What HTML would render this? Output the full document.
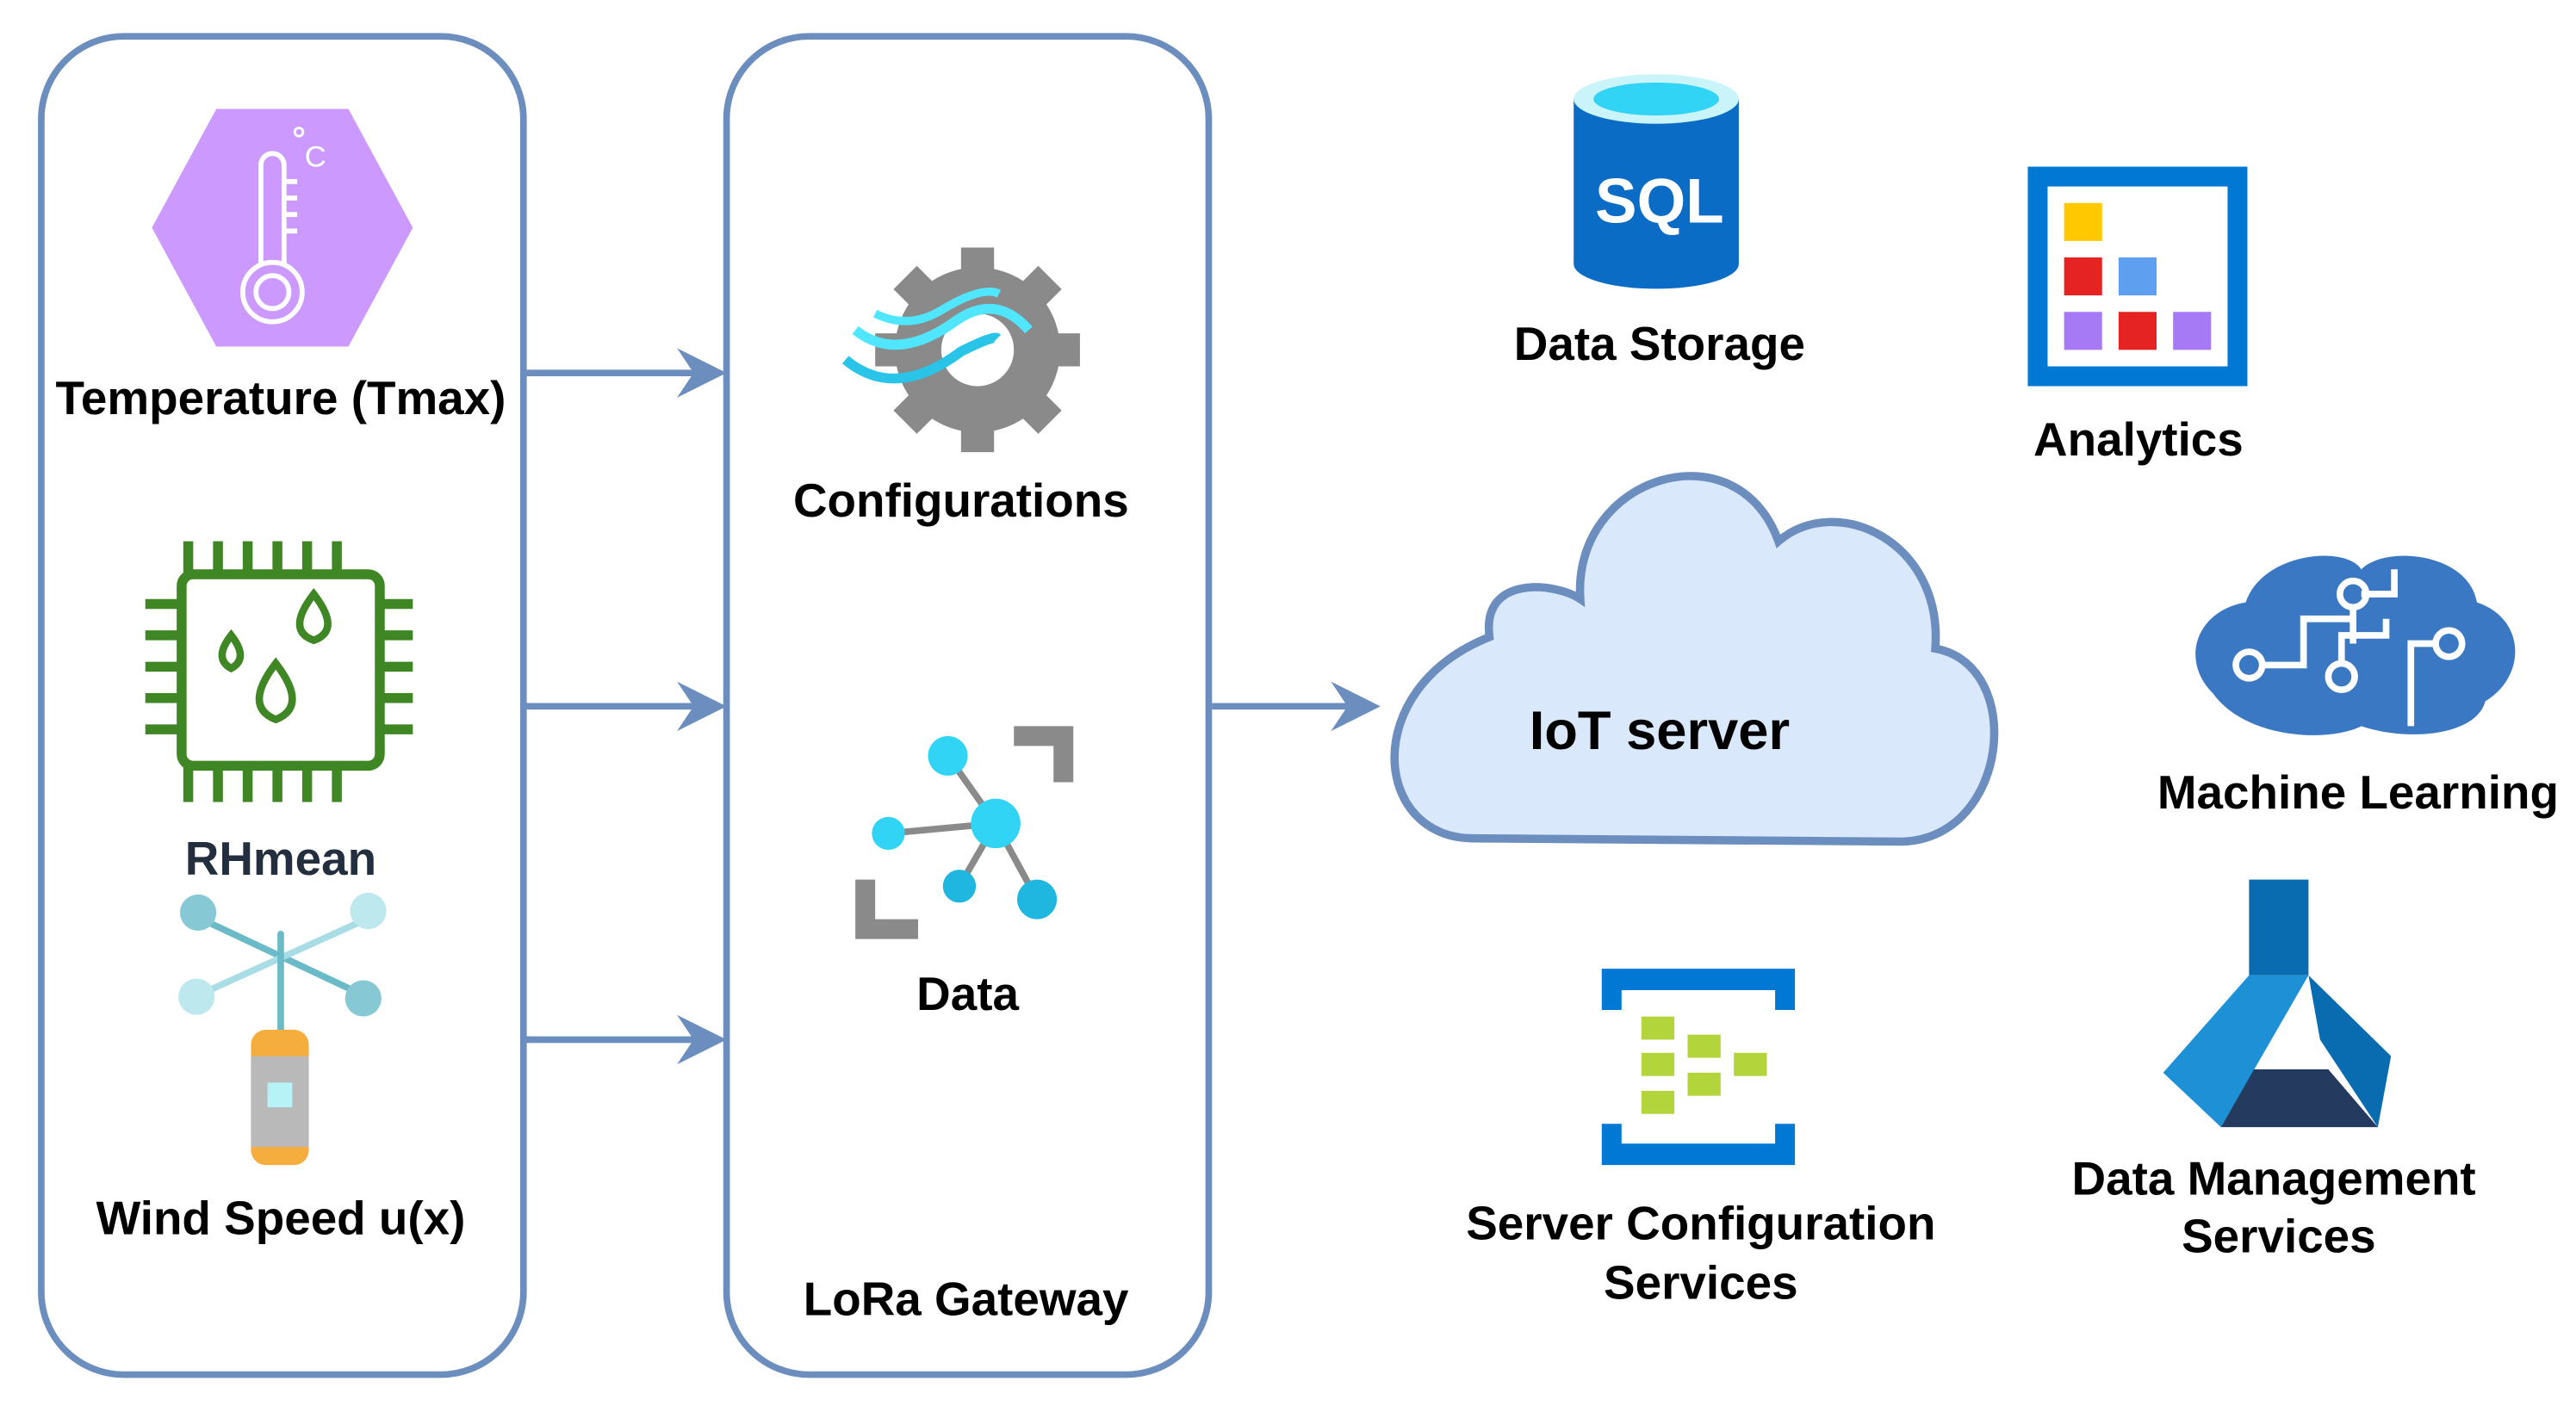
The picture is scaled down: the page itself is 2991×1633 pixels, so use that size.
<!DOCTYPE html>
<html><head><meta charset="utf-8"><style>
html,body{margin:0;padding:0;background:#fff;}
svg{display:block;}
text{font-family:"Liberation Sans",Arial,sans-serif;font-weight:bold;text-anchor:middle;fill:#000;}
</style></head><body>
<svg width="2991" height="1633" viewBox="0 0 1560 852" preserveAspectRatio="none" xmlns="http://www.w3.org/2000/svg">
<rect width="1560" height="852" fill="#fff"/>
<rect x="25" y="22" width="292" height="811" rx="50" fill="#fff" stroke="#6c8ebf" stroke-width="4"/>
<rect x="440" y="22" width="292" height="811" rx="50" fill="#fff" stroke="#6c8ebf" stroke-width="4"/>
<g stroke="#6c8ebf" stroke-width="4" fill="#6c8ebf">
<line x1="318" y1="226" x2="425" y2="226"/><line x1="318" y1="428" x2="425" y2="428"/><line x1="318" y1="630" x2="425" y2="630"/><line x1="734" y1="428" x2="822" y2="428"/>
</g>
<g fill="#6c8ebf">
<polygon points="440,226 410,211 420,226 410,241"/>
<polygon points="440,428 410,413 420,428 410,443"/>
<polygon points="440,630 410,615 420,630 410,645"/>
<polygon points="836,428 806,413 816,428 806,443"/>
</g>
<polygon points="92,138 131,66 211,66 250,138 211,210 131,210" fill="#cc99ff"/>
<g fill="none" stroke="#fff" stroke-width="3">
<path d="M158,160 V100 a7,7 0 0 1 14,0 V160"/>
<circle cx="165" cy="177" r="18"/><circle cx="165" cy="177" r="10"/>
<line x1="172" y1="110" x2="180" y2="110"/><line x1="172" y1="120" x2="180" y2="120"/><line x1="172" y1="130" x2="180" y2="130"/><line x1="172" y1="140" x2="180" y2="140"/>
<circle cx="181" cy="80" r="2.5" stroke-width="1.5"/>
</g>
<text x="191" y="101" style="font-weight:normal;fill:#fff;font-size:18px">C</text>
<text x="170" y="251" font-size="28.6">Temperature (Tmax)</text>
<g stroke="#3f8624" stroke-width="6" fill="none">
<rect x="110" y="348" width="120" height="116" rx="7"/>
<path d="M114,328V348M132,328V348M150,328V348M168,328V348M186,328V348M204,328V348"/>
<path d="M114,464V486M132,464V486M150,464V486M168,464V486M186,464V486M204,464V486"/>
<path d="M88,366H110M88,385H110M88,404H110M88,423H110M88,442H110"/>
<path d="M230,366H250M230,385H250M230,404H250M230,423H250M230,442H250"/>
<g stroke-width="4.5"><path d="M140,385 q-11,14 0,20 q11,-6 0,-20z"/><path d="M190,360 q-17,22 0,28 q17,-6 0,-28z"/><path d="M167,402 q-20,26 0,34 q20,-8 0,-34z"/></g>
</g>
<text x="170" y="530" font-size="28.6" style="fill:#232f3e">RHmean</text>
<g stroke-linecap="round">
<line x1="120" y1="556" x2="222" y2="604" stroke="#6bbac8" stroke-width="4"/>
<line x1="118" y1="604" x2="224" y2="556" stroke="#a8dde6" stroke-width="4"/>
<line x1="170" y1="566" x2="170" y2="625" stroke="#6bbac8" stroke-width="4"/>
</g>
<circle cx="120" cy="553" r="11" fill="#86c9d4"/><circle cx="223" cy="552" r="11" fill="#bde8ee"/>
<circle cx="119" cy="604" r="11" fill="#bde8ee"/><circle cx="220" cy="605" r="11" fill="#86c9d4"/>
<rect x="152" y="624" width="35" height="82" rx="9" fill="#f5ae3d"/>
<rect x="152" y="640" width="35" height="55" fill="#b9b9b9"/>
<rect x="162" y="656" width="15" height="15" fill="#b6f2f6"/>
<text x="170" y="748" font-size="28.6">Wind Speed u(x)</text>
<g fill="#8a8a8a">
<circle cx="592" cy="212" r="50"/>
<g transform="translate(592,212)">
<rect x="-10" y="-62" width="20" height="124"/><rect x="-10" y="-62" width="20" height="124" transform="rotate(45)"/><rect x="-10" y="-62" width="20" height="124" transform="rotate(90)"/><rect x="-10" y="-62" width="20" height="124" transform="rotate(135)"/>
</g></g>
<circle cx="592" cy="212" r="22" fill="#fff"/>
<path d="M512,218 q30,25 70,-5 q20,-10 22,-8" fill="none" stroke="#29c4e8" stroke-width="6"/>
<path d="M518,200 q25,20 60,-5 q25,-18 45,5" fill="none" stroke="#50e6ff" stroke-width="6"/>
<path d="M530,190 q20,10 40,-2 q25,-15 35,-10" fill="none" stroke="#50e6ff" stroke-width="5"/>
<text x="582" y="313" font-size="28.6">Configurations</text>
<path d="M614,440H650V474H638V452H614Z" fill="#8a8a8a"/>
<path d="M518,533H530V557H556V569H518Z" fill="#8a8a8a"/>
<g stroke="#8a8a8a" stroke-width="4"><line x1="574" y1="458" x2="603" y2="499"/><line x1="538" y1="505" x2="603" y2="499"/><line x1="603" y1="499" x2="628" y2="545"/><line x1="603" y1="499" x2="581" y2="537"/></g>
<circle cx="574" cy="458" r="12" fill="#32d4f5"/><circle cx="603" cy="499" r="15" fill="#32d4f5"/><circle cx="538" cy="505" r="10" fill="#32d4f5"/><circle cx="581" cy="537" r="10" fill="#1fb6e0"/><circle cx="628" cy="545" r="12" fill="#1fb6e0"/>
<text x="586" y="612" font-size="28.6">Data</text>
<text x="585" y="797" font-size="28.6">LoRa Gateway</text>
<g transform="translate(-8,-2)">
<path d="M900,510 C840,510 830,420 910,388 C905,350 950,355 965,365 C960,290 1060,260 1085,330 C1120,300 1185,330 1180,395 C1235,405 1225,510 1160,512 Z" fill="#dae8fc" stroke="#6c8ebf" stroke-width="5"/>
</g>
<text x="1005" y="454" font-size="33">IoT server</text>
<path d="M953,60 V160 a50,15 0 0 0 100,0 V60Z" fill="#0a6cc4"/>
<ellipse cx="1003" cy="60" rx="50" ry="15" fill="#c8f4fa"/>
<ellipse cx="1003" cy="60" rx="38" ry="10" fill="#32d4f5"/>
<text x="1005" y="135" font-size="38" style="fill:#fff">SQL</text>
<text x="1005" y="218" font-size="28.6">Data Storage</text>
<rect x="1228" y="101" width="133" height="133" fill="#0078d4"/>
<rect x="1240" y="113" width="109" height="109" fill="#fff"/>
<rect x="1250" y="123" width="23" height="23" fill="#ffc800"/>
<rect x="1250" y="156" width="23" height="23" fill="#e62323"/><rect x="1283" y="156" width="23" height="23" fill="#5ea0ef"/>
<rect x="1250" y="189" width="23" height="23" fill="#a67af4"/><rect x="1283" y="189" width="23" height="23" fill="#e62323"/><rect x="1316" y="189" width="23" height="23" fill="#a67af4"/>
<text x="1295" y="276" font-size="28.6">Analytics</text>
<path d="M1340,420 C1320,400 1330,370 1360,365 C1370,335 1420,330 1430,345 C1445,330 1495,335 1500,365 C1530,375 1530,410 1505,425 C1500,445 1460,450 1430,440 C1410,450 1360,448 1340,420Z" fill="#3a78c3"/>
<g fill="none" stroke="#fff" stroke-width="4"><circle cx="1362" cy="403" r="8"/><circle cx="1425" cy="360" r="8"/><circle cx="1418" cy="410" r="8"/><circle cx="1483" cy="390" r="8"/><path d="M1370,403H1395V375H1425M1425,368V390M1418,402V385H1445V375M1475,390H1460V440M1430,360H1450V345"/></g>
<text x="1428" y="490" font-size="28.6">Machine Learning</text>
<path d="M970,587H1087V612H1075V600H982V612H970Z" fill="#0078d4"/>
<path d="M970,706H1087V681H1075V693H982V681H970Z" fill="#0078d4"/>
<g fill="#b4d43c"><rect x="994" y="616" width="20" height="14"/><rect x="994" y="638" width="20" height="14"/><rect x="994" y="661" width="20" height="14"/><rect x="1022" y="627" width="20" height="14"/><rect x="1022" y="650" width="20" height="14"/><rect x="1050" y="638" width="20" height="14"/></g>
<text x="1030" y="751" font-size="28.6">Server Configuration</text>
<text x="1030" y="787" font-size="28.6">Services</text>
<rect x="1362" y="533" width="36" height="58" fill="#0a6cb0"/>
<polygon points="1362,591 1398,591 1345,683 1310,650" fill="#1e90d6"/>
<polygon points="1398,591 1448,640 1440,683 1405,630" fill="#0a6cb0"/>
<polygon points="1345,683 1440,683 1410,648 1365,648" fill="#243a5e"/>
<text x="1377" y="724" font-size="28.6">Data Management</text>
<text x="1380" y="759" font-size="28.6">Services</text>
</svg>
</body></html>
